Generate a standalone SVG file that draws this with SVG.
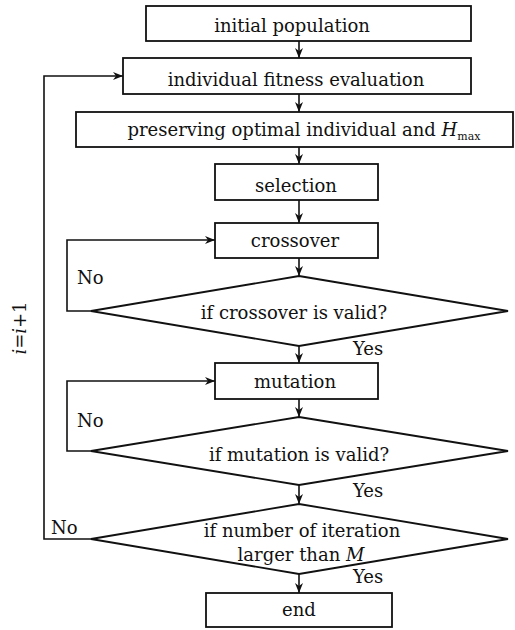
<svg xmlns="http://www.w3.org/2000/svg" width="515" height="630" viewBox="0 0 515 630">
<defs>
<marker id="ah" viewBox="0 0 10 10" refX="10" refY="5" markerWidth="10" markerHeight="10" markerUnits="userSpaceOnUse" orient="auto">
<path d="M0,1 L10,5 L0,9 L3,5 Z" fill="#111"/>
</marker>
<style>
.box{fill:#fff;stroke:#111;stroke-width:1.8}
.ln{fill:none;stroke:#111;stroke-width:1.6}
.t{font-family:"DejaVu Serif","Liberation Serif",serif;font-size:18px;fill:#111;text-anchor:middle}
.l{font-family:"DejaVu Serif","Liberation Serif",serif;font-size:18px;fill:#111}
</style>
</defs>
<rect width="515" height="630" fill="#fff"/>
<g id="connectors">
<path class="ln" d="M299,41 V58" marker-end="url(#ah)"/>
<path class="ln" d="M299,94 V112" marker-end="url(#ah)"/>
<path class="ln" d="M299,147 V164" marker-end="url(#ah)"/>
<path class="ln" d="M299,200 V223" marker-end="url(#ah)"/>
<path class="ln" d="M299,258 V276" marker-end="url(#ah)"/>
<path class="ln" d="M91,311 H67 V240 H215" marker-end="url(#ah)"/>
<path class="ln" d="M299,346 V363" marker-end="url(#ah)"/>
<path class="ln" d="M299,399 V417" marker-end="url(#ah)"/>
<path class="ln" d="M91,451 H67 V381 H215" marker-end="url(#ah)"/>
<path class="ln" d="M299,485 V504" marker-end="url(#ah)"/>
<path class="ln" d="M91,539 H44 V76 H123" marker-end="url(#ah)"/>
<path class="ln" d="M299,574 V593" marker-end="url(#ah)"/>
<text class="l" x="77" y="284">No</text>
<text class="l" x="353" y="355">Yes</text>
<text class="l" x="77" y="427">No</text>
<text class="l" x="353" y="497">Yes</text>
<text class="l" x="51" y="534">No</text>
<text class="l" x="353" y="583">Yes</text>
<text class="t" transform="translate(26,328) rotate(-90)"><tspan font-style="italic">i</tspan>=<tspan font-style="italic">i</tspan>+1</text>
</g>
<g id="initial">
<rect class="box" x="146" y="6" width="325" height="35"/>
<text class="t" x="292" y="32">initial population</text>
</g>
<g id="fitness">
<rect class="box" x="123" y="58" width="348" height="36"/>
<text class="t" x="296" y="86">individual fitness evaluation</text>
</g>
<g id="preserve">
<rect class="box" x="76" y="112" width="437" height="35"/>
<text class="t" x="304" y="136">preserving optimal individual and <tspan font-style="italic">H</tspan><tspan font-size="11" dy="4">max</tspan></text>
</g>
<g id="selection">
<rect class="box" x="215" y="164" width="163" height="36"/>
<text class="t" x="296" y="192">selection</text>
</g>
<g id="crossover">
<rect class="box" x="215" y="223" width="163" height="35"/>
<text class="t" x="295" y="247">crossover</text>
</g>
<g id="d1">
<polygon class="box" points="299,276 508,311 299,346 91,311"/>
<text class="t" x="294" y="319">if crossover is valid?</text>
</g>
<g id="mutation">
<rect class="box" x="215" y="363" width="163" height="36"/>
<text class="t" x="295" y="388">mutation</text>
</g>
<g id="d2">
<polygon class="box" points="299,417 508,451 299,485 91,451"/>
<text class="t" x="299" y="461">if mutation is valid?</text>
</g>
<g id="d3">
<polygon class="box" points="299,504 508,539 299,574 91,539"/>
<text class="t" x="302" y="537">if number of iteration</text>
<text class="t" x="301" y="561">larger than <tspan font-style="italic">M</tspan></text>
</g>
<g id="end">
<rect class="box" x="206" y="593" width="186" height="34"/>
<text class="t" x="299" y="616">end</text>
</g>
</svg>
